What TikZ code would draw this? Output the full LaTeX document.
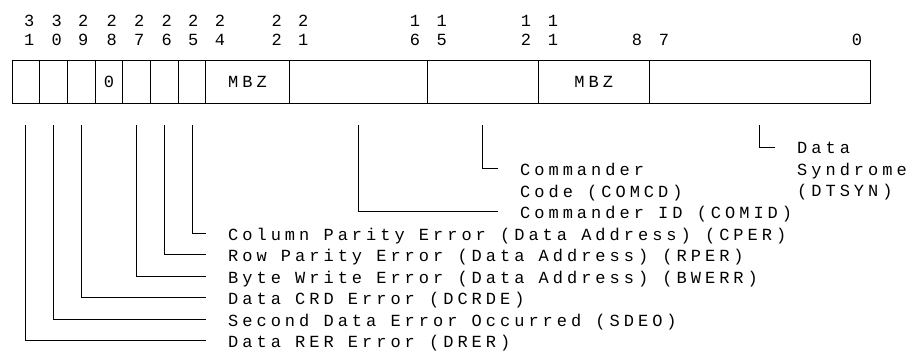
\documentclass[tikz,border=0pt]{standalone}
\usepackage{fontspec}
\newfontfamily\regfont{Liberation Mono}[LetterSpace=23.5]
\newcommand{\regsize}{\regfont\fontsize{17}{21.5}\selectfont}

\tikzset{
  cell/.style={draw, line width=0.9pt, minimum height=43pt, inner sep=0pt, font=\regsize},
  bitno/.style={anchor=base, inner sep=0pt, font=\regsize},
  field/.style={anchor=base west, inner sep=0pt, font=\regsize, align=left},
  lead/.style={line width=0.9pt},
}

\begin{document}
\begin{tikzpicture}[x=1pt, y=-1pt]
  \useasboundingbox (0,0) rectangle (917,354);

  % register cells
  \node[cell, minimum width=27.7pt] (c31) at (25.85,81.5) {};
  \node[cell, minimum width=27.7pt] (c30) at (53.55,81.5) {};
  \node[cell, minimum width=27.7pt] (c29) at (81.25,81.5) {};
  \node[cell, minimum width=27.7pt] (c28) at (108.95,81.5) {0};
  \node[cell, minimum width=27.7pt] (c27) at (136.65,81.5) {};
  \node[cell, minimum width=27.7pt] (c26) at (164.35,81.5) {};
  \node[cell, minimum width=27.7pt] (c25) at (192.05,81.5) {};
  \node[cell, minimum width=83.1pt] (mbzhi) at (247.45,81.5) {MBZ};
  \node[cell, minimum width=138.5pt] (cid) at (358.25,81.5) {};
  \node[cell, minimum width=110.8pt] (ccd) at (482.9,81.5) {};
  \node[cell, minimum width=110.8pt] (mbzlo) at (593.7,81.5) {MBZ};
  \node[cell, minimum width=221.6pt] (csyn) at (759.9,81.5) {};

  % bit numbers
  \foreach \x/\d [count=\i] in {29.3/3, 56.7/3, 83.3/2, 111.7/2, 139.3/2, 166.7/2,
      193.3/2, 220/2, 276.7/2, 303.3/2, 415/1, 441.7/1, 526/1, 553/1}
    \node[bitno] (hi\i) at (\x,26) {\d};
  \foreach \x/\d [count=\i] in {29.3/1, 56.7/0, 83.3/9, 111.7/8, 139.3/7, 166.7/6,
      193.3/5, 220/4, 276.7/2, 303.3/1, 415/6, 441.7/5, 526/2, 553/1,
      637/8, 664/7, 857/0}
    \node[bitno] (lo\i) at (\x,45) {\d};

  % field names
  \node[field, anchor=north west] (comcd) at (520,163) {Commander\\Code (COMCD)};
  \node[field, anchor=north west] (dtsyn) at (797,142) {Data\\Syndrome\\(DTSYN)};
  \node[field] (comid) at (520,218.5) {Commander ID (COMID)};
  \node[field] (cper) at (228,240) {Column Parity Error (Data Address) (CPER)};
  \node[field] (rper) at (228,261.5) {Row Parity Error (Data Address) (RPER)};
  \node[field] (bwerr) at (228,283) {Byte Write Error (Data Address) (BWERR)};
  \node[field] (dcrde) at (228,304.5) {Data CRD Error (DCRDE)};
  \node[field] (sdeo) at (228,326) {Second Data Error Occurred (SDEO)};
  \node[field] (drer) at (228,347.5) {Data RER Error (DRER)};

  % leaders
  \draw[lead] ([yshift=-22pt]c31.south) |- ([shift={(-22pt,7pt)}]drer.base west);
  \draw[lead] ([yshift=-22pt]c30.south) |- ([shift={(-22pt,7pt)}]sdeo.base west);
  \draw[lead] ([yshift=-22pt]c29.south) |- ([shift={(-22pt,7pt)}]dcrde.base west);
  \draw[lead] ([yshift=-22pt]c27.south) |- ([shift={(-22pt,7pt)}]bwerr.base west);
  \draw[lead] ([yshift=-22pt]c26.south) |- ([shift={(-22pt,7pt)}]rper.base west);
  \draw[lead] ([yshift=-22pt]c25.south) |- ([shift={(-22pt,7pt)}]cper.base west);
  \draw[lead] ([yshift=-22pt]cid.south) |- ([shift={(-22pt,7pt)}]comid.base west);
  \draw[lead] ([yshift=-22pt]ccd.south) |- ([shift={(-22pt,-5pt)}]comcd.north west);
  \draw[lead] ([yshift=-22pt]csyn.south) |- ([shift={(-22pt,-5pt)}]dtsyn.north west);
\end{tikzpicture}
\end{document}
